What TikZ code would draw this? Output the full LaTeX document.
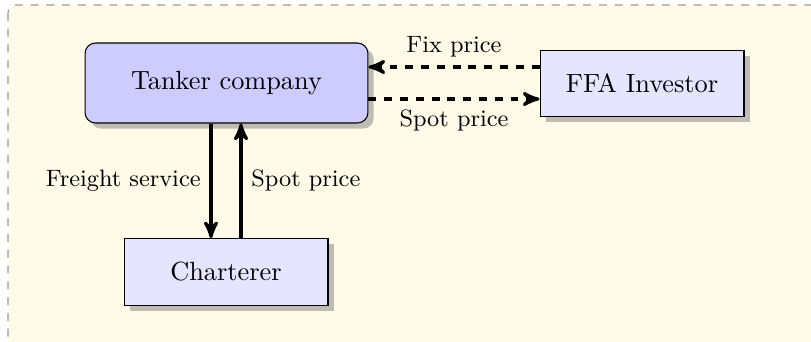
\documentclass[tikz,border=0pt]{standalone}
\usetikzlibrary{shadows,arrows}
\definecolor{paper}{RGB}{255,251,232}
\tikzset{
  box/.style={draw=black, fill=blue!10, drop shadow, inner sep=0pt,
    minimum width=77.5pt, minimum height=25.3pt, font=\normalsize},
  mainbox/.style={box, fill=blue!20, rounded corners=4pt,
    minimum width=107.5pt, minimum height=30.4pt},
  flow/.style={very thick, -stealth'},
  dflow/.style={flow, dashed},
  lbl/.style={font=\small}
}
\begin{document}
\begin{tikzpicture}[x=0.38pt, y=-0.38pt]
  \useasboundingbox (0,0) rectangle (811,341);
  % frame behind the diagram, cut at the page edge
  \begin{scope}
    \clip (0,0) rectangle (811,341);
    \draw[gray!80, dashed, fill=paper, rounded corners=3pt] (8,5) rectangle (840,350);
  \end{scope}

  \node[mainbox] (tanker) at (226.5,83) {Tanker company};
  \node[box] (ffa) at (642,83.5) {FFA Investor};
  \node[box] (charterer) at (226,272) {Charterer};

  % heights and columns of the connectors
  \coordinate (fixy) at (0,67);
  \coordinate (spoty) at (0,99);
  \coordinate (downx) at (211,0);
  \coordinate (upx) at (241,0);

  \draw[dflow] (ffa.west |- fixy) -- node[lbl, above] {Fix price} (tanker.east |- fixy);
  \draw[dflow] (tanker.east |- spoty) -- node[lbl, below] {Spot price} (ffa.west |- spoty);
  \draw[flow] (tanker.south -| downx) -- node[lbl, left] {Freight service} (charterer.north -| downx);
  \draw[flow] (charterer.north -| upx) -- node[lbl, right] {Spot price} (tanker.south -| upx);
\end{tikzpicture}
\end{document}
